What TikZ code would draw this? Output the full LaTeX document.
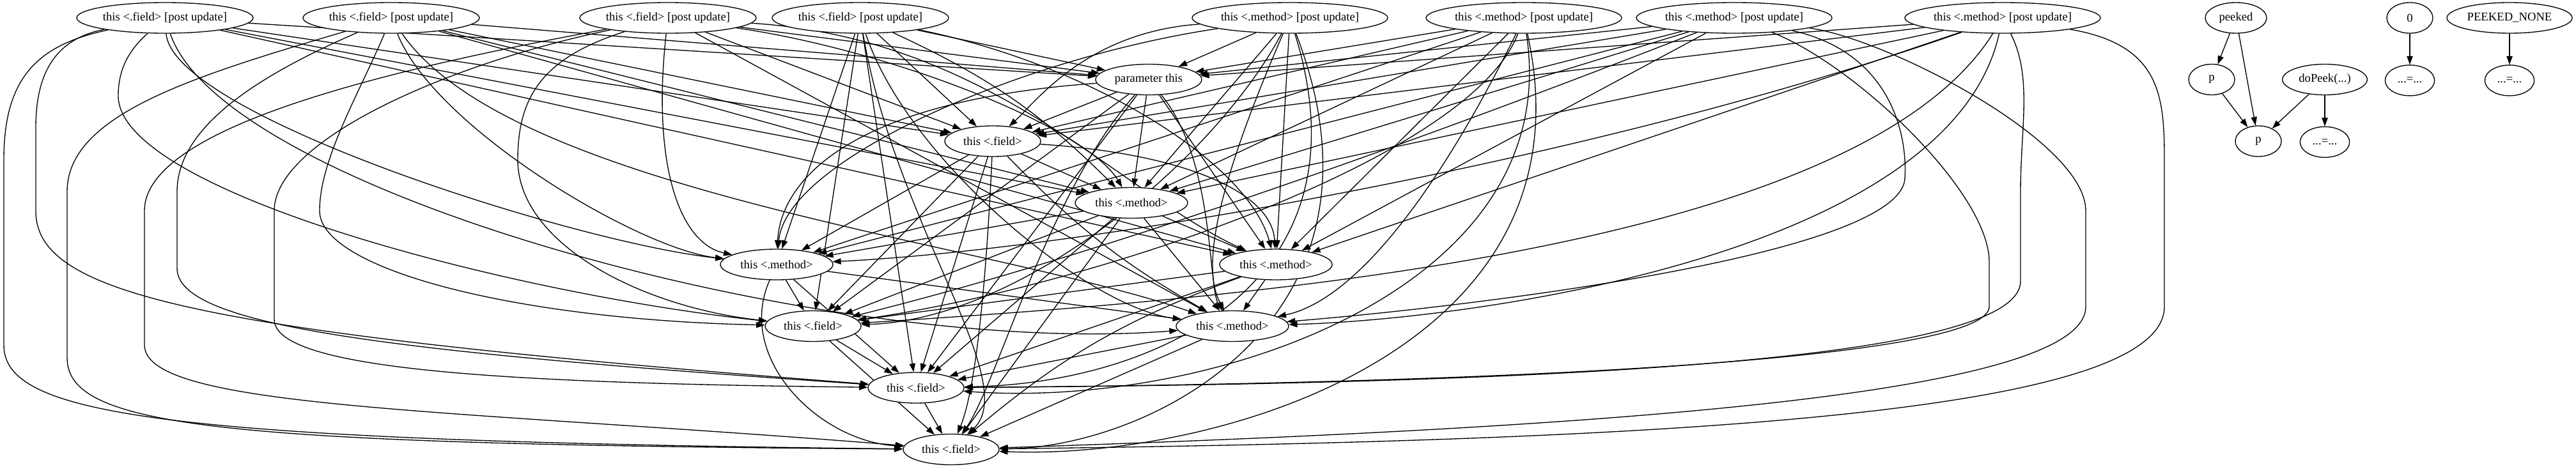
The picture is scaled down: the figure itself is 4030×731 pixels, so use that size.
\documentclass[tikz,border=0pt]{standalone}
\usepackage{fontspec}
\setmainfont{Liberation Serif}
\usetikzlibrary{shapes.geometric, positioning, arrows.meta}
\pgfdeclarelayer{edges}
\pgfsetlayers{edges,main}

\begin{document}
\begin{tikzpicture}[
x=0.75pt, y=0.75pt,
node distance=36.4pt,
dnode/.style={ellipse, draw=black, fill=white, line width=1pt, inner sep=0pt, minimum height=36pt, minimum width=#1, font=\fontsize{14}{16}\selectfont},
dnode/.default=54pt,
dep/.style={-{Triangle[length=10pt,width=7pt]}, line width=1pt},
]
\useasboundingbox (0,0) rectangle (4030,-731);

% post update nodes
\node[dnode=207pt]   (fu1) at (258,-28)  {this <.field> [post update]};
\node[dnode=207pt]   (fu2) at (612,-28)  {this <.field> [post update]};
\node[dnode=207pt]   (fu3) at (1045,-28) {this <.field> [post update]};
\node[dnode=207pt]   (fu4) at (1346,-28) {this <.field> [post update]};
\node[dnode=229.5pt] (mu1) at (2018,-28) {this <.method> [post update]};
\node[dnode=229.5pt] (mu2) at (2384,-28) {this <.method> [post update]};
\node[dnode=229.5pt] (mu3) at (2713,-28) {this <.method> [post update]};
\node[dnode=229.5pt] (mu4) at (3133,-28) {this <.method> [post update]};

\node[dnode=124.5pt] (par) at (1797,-124.5) {parameter this};
\node[dnode=112.5pt] (fa)  at (1553,-221)   {this <.field>};
\node[dnode=132pt]   (ma)  at (1770,-317.5) {this <.method>};
\node[dnode=132pt]   (mb)  at (1215,-414)   {this <.method>};
\node[dnode=132pt]   (mc)  at (1996,-414)   {this <.method>};
\node[dnode=112.5pt] (fb)  at (1272,-510.5) {this <.field>};
\node[dnode=132pt]   (md)  at (1928,-510.5) {this <.method>};
\node[dnode=112.5pt] (fc)  at (1433,-607)   {this <.field>};
\node[dnode=112.5pt] (fd)  at (1488,-703.5) {this <.field>};

\node[dnode=72pt]    (peeked) at (3498,-28)    {peeked};
\node[dnode]         (zero)   at (3770,-28)    {0};
\node[dnode=147pt]   (none)   at (3926,-28)    {PEEKED\_NONE};
\node[dnode]         (pa)     at (3460,-124.5) {p};
\node[dnode=99.5pt]  (dopeek) at (3637,-124.5) {doPeek(...)};
\node[dnode]         (pb)     at (3533,-221)   {p};
\node[dnode=58pt]    (asga)   [below=of dopeek] {...=...};
\node[dnode=58pt]    (asgb)   [below=of zero]   {...=...};
\node[dnode=58pt]    (asgc)   [below=of none]   {...=...};

\begin{pgfonlayer}{edges}
% field post updates
\draw[dep] (fu1) -- (par);
\draw[dep] (fu1) -- (fa);
\draw[dep] (fu1) -- (ma);
\draw[dep] (fu1) .. controls (270,-180) and (900,-380) .. (mb);
\draw[dep] (fu1) -- (mc);
\draw[dep] (fu1) .. controls (200,-80) and (185,-110) .. (185,-150) .. controls (185,-300) and (800,-460) .. (fb);
\draw[dep] (fu1) .. controls (350,-300) and (1300,-560) .. (md);
\draw[dep] (fu1) .. controls (90,-60) and (56,-110) .. (56,-200) -- (56,-330) .. controls (56,-460) and (300,-520) .. (fc);
\draw[dep] (fu1) .. controls (60,-70) and (6,-120) .. (6,-250) -- (6,-540) .. controls (6,-650) and (250,-690) .. (fd);

\draw[dep] (fu2) -- (par);
\draw[dep] (fu2) -- (fa);
\draw[dep] (fu2) -- (ma);
\draw[dep] (fu2) .. controls (680,-200) and (1000,-390) .. (mb);
\draw[dep] (fu2) -- (mc);
\draw[dep] (fu2) .. controls (560,-150) and (500,-250) .. (500,-330) .. controls (500,-420) and (800,-500) .. (fb);
\draw[dep] (fu2) .. controls (800,-300) and (1550,-380) .. (md);
\draw[dep] (fu2) .. controls (400,-120) and (277,-200) .. (277,-300) -- (277,-420) .. controls (277,-510) and (600,-550) .. (fc);
\draw[dep] (fu2) .. controls (300,-120) and (105,-180) .. (105,-300) -- (105,-560) .. controls (105,-670) and (350,-695) .. (fd);

\draw[dep] (fu3) -- (par);
\draw[dep] (fu3) -- (fa);
\draw[dep] (fu3) .. controls (1400,-80) and (1700,-200) .. (ma);
\draw[dep] (fu3) .. controls (1020,-250) and (1060,-380) .. (mb);
\draw[dep] (fu3) .. controls (1550,-60) and (1750,-300) .. (mc);
\draw[dep] (fu3) .. controls (850,-90) and (810,-150) .. (810,-250) .. controls (810,-380) and (1000,-480) .. (fb);
\draw[dep] (fu3) -- (md);
\draw[dep] (fu3) .. controls (700,-100) and (429,-220) .. (429,-330) -- (429,-500) .. controls (429,-580) and (800,-600) .. (fc);
\draw[dep] (fu3) .. controls (600,-110) and (226,-200) .. (226,-330) -- (226,-540) .. controls (226,-640) and (700,-640) .. (fd);

\draw[dep] (fu4) -- (par);
\draw[dep] (fu4) -- (fa);
\draw[dep] (fu4) to[bend left=10] (ma);
\draw[dep] (fu4) -- (mb);
\draw[dep] (fu4) .. controls (1700,-100) and (1950,-250) .. (mc);
\draw[dep] (fu4) -- (fb);
\draw[dep] (fu4) .. controls (1420,-250) and (1700,-480) .. (md);
\draw[dep] (fu4) -- (fc);
\draw[dep] (fu4) .. controls (1400,-350) and (1600,-600) .. (fd);

% method post updates
\draw[dep] (mu1) -- (par);
\draw[dep] (mu1) .. controls (1700,-50) and (1620,-160) .. (fa);
\draw[dep] (mu1) -- (ma);
\draw[dep] (mu1) .. controls (1600,-90) and (1230,-250) .. (mb);
\draw[dep] (mu1) -- (mc);
\draw[dep] (mu1) .. controls (1900,-250) and (1600,-500) .. (fb);
\draw[dep] (mu1) .. controls (1900,-300) and (1880,-420) .. (md);
\draw[dep] (mu1) .. controls (2150,-450) and (1800,-600) .. (fc);
\draw[dep] (mu1) .. controls (2200,-500) and (1800,-700) .. (fd);

\draw[dep] (mu2) -- (par);
\draw[dep] (mu2) -- (fa);
\draw[dep] (mu2) -- (ma);
\draw[dep] (mu2) -- (mb);
\draw[dep] (mu2) -- (mc);
\draw[dep] (mu2) .. controls (2300,-250) and (1700,-450) .. (fb);
\draw[dep] (mu2) .. controls (2250,-300) and (2120,-470) .. (md);
\draw[dep] (mu2) .. controls (2450,-450) and (1900,-640) .. (fc);
\draw[dep] (mu2) .. controls (2500,-550) and (1900,-720) .. (fd);

\draw[dep] (mu3) -- (par);
\draw[dep] (mu3) -- (fa);
\draw[dep] (mu3) -- (ma);
\draw[dep] (mu3) -- (mb);
\draw[dep] (mu3) -- (mc);
\draw[dep] (mu3) .. controls (2400,-150) and (1800,-380) .. (fb);
\draw[dep] (mu3) .. controls (2950,-80) and (2985,-200) .. (2980,-280) .. controls (2970,-400) and (2300,-480) .. (md);
\draw[dep] (mu3) .. controls (2900,-100) and (3112,-300) .. (3112,-410) -- (3112,-480) .. controls (3112,-560) and (2400,-600) .. (fc);
\draw[dep] (mu3) .. controls (2950,-60) and (3263,-220) .. (3263,-330) -- (3263,-480) .. controls (3263,-620) and (2500,-670) .. (fd);

\draw[dep] (mu4) -- (par);
\draw[dep] (mu4) -- (fa);
\draw[dep] (mu4) -- (ma);
\draw[dep] (mu4) .. controls (2500,-250) and (1700,-390) .. (mb);
\draw[dep] (mu4) -- (mc);
\draw[dep] (mu4) .. controls (2900,-400) and (1900,-470) .. (fb);
\draw[dep] (mu4) .. controls (3050,-400) and (2300,-500) .. (md);
\draw[dep] (mu4) .. controls (3180,-120) and (3161,-200) .. (3161,-300) -- (3161,-440) .. controls (3161,-560) and (2500,-600) .. (fc);
\draw[dep] (mu4) .. controls (3380,-70) and (3386,-150) .. (3386,-250) -- (3386,-480) .. controls (3386,-650) and (2600,-690) .. (fd);

% inner flow
\draw[dep] (par) -- (fa);
\draw[dep] (par) -- (ma);
\draw[dep] (par) .. controls (1300,-160) and (1220,-300) .. (mb);
\draw[dep] (par) -- (mc);
\draw[dep] (par) -- (fb);
\draw[dep] (par) .. controls (1900,-250) and (1890,-450) .. (md);
\draw[dep] (par) -- (fc);
\draw[dep] (par) .. controls (1640,-300) and (1560,-600) .. (fd);

\draw[dep] (fa) -- (ma);
\draw[dep] (fa) -- (mb);
\draw[dep] (fa) .. controls (1850,-240) and (1990,-300) .. (mc);
\draw[dep] (fa) -- (fb);
\draw[dep] (fa) to[bend right=8] (md);
\draw[dep] (fa) -- (fc);
\draw[dep] (fa) .. controls (1545,-400) and (1530,-600) .. (fd);

\draw[dep] (ma) -- (mb);
\draw[dep] (ma) -- (mc);
\draw[dep] (ma) -- (fb);
\draw[dep] (ma) -- (md);
\draw[dep] (ma) -- (fc);
\draw[dep] (ma) -- (fd);

\draw[dep] (mb) -- (fb);
\draw[dep] (mb) -- (md);
\draw[dep] (mb) -- (fc);
\draw[dep] (mb) .. controls (1150,-560) and (1280,-690) .. (fd);

\draw[dep] (mc) -- (fb);
\draw[dep] (mc) -- (md);
\draw[dep] (mc) -- (fc);
\draw[dep] (mc) to[bend right=10] (fd);

\draw[dep] (fb) -- (fc);
\draw[dep] (fb) -- (fd);
\draw[dep] (md) -- (fc);
\draw[dep] (md) -- (fd);
\draw[dep] (fc) -- (fd);

% peeked
\draw[dep] (peeked) -- (pa);
\draw[dep] (peeked) -- (pb);
\draw[dep] (pa) -- (pb);
\draw[dep] (dopeek) -- (pb);
\draw[dep] (dopeek) -- (asga);
\draw[dep] (zero) -- (asgb);
\draw[dep] (none) -- (asgc);
\end{pgfonlayer}

\end{tikzpicture}
\end{document}
